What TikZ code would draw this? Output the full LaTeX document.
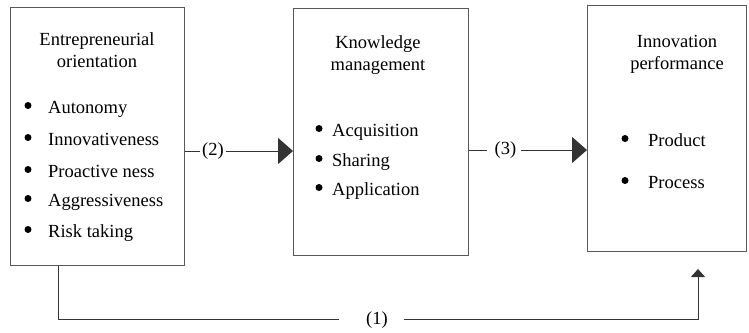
\documentclass[tikz,border=0pt]{standalone}
\usepackage{fontspec}
\setmainfont{Liberation Serif}
\usetikzlibrary{arrows.meta}
\begin{document}
\begin{tikzpicture}[x=1pt,y=-1pt,
  box/.style={draw=black!65, line width=1.1pt, anchor=north west, inner sep=0pt},
  txt/.style={inner sep=0pt, font=\fontsize{18.5}{22}\selectfont},
  ttl/.style={txt, anchor=base},
  item/.style={txt, anchor=base west},
  conn/.style={draw=black!80, line width=0.9pt},
  bigarrow/.style={conn, -{Triangle[length=15pt,width=26pt]}},
  smallarrow/.style={conn, -{Triangle[length=8pt,width=14pt]}},
  dot/.style={fill=black}]
\useasboundingbox (0,0) rectangle (749,332);
% boxes
\node[box, minimum width=174pt, minimum height=258pt] (eo) at (10,7) {};
\node[box, minimum width=175pt, minimum height=247pt] (km) at (293,8) {};
\node[box, minimum width=159pt, minimum height=246pt] (ip) at (587,5) {};
% box 1 text
\node[ttl] (eo1) at (97,45) {Entrepreneurial};
\node[ttl] (eo2) at (97,67) {orientation};
\foreach \y/\t/\n in {113/Autonomy/a,145/Innovativeness/b,177/Proactive ness/c,206/Aggressiveness/d,237/Risk taking/e}{
  \fill[dot] (28,\y-7.5) circle (3.5pt);
  \node[item] (eoi\n) at (48,\y) {\t};
}
% box 2 text
\node[ttl] (km1) at (378,48) {Knowledge};
\node[ttl] (km2) at (378,70) {management};
\foreach \y/\t/\n in {136/Acquisition/a,166/Sharing/b,195/Application/c}{
  \fill[dot] (319,\y-7.5) circle (3.5pt);
  \node[item] (kmi\n) at (332,\y) {\t};
}
% box 3 text
\node[ttl] (ip1) at (677,47) {Innovation};
\node[ttl] (ip2) at (677,69) {performance};
\foreach \y/\t/\n in {146/Product/a,188/Process/b}{
  \fill[dot] (625,\y-7.5) circle (3.5pt);
  \node[item] (ipi\n) at (648,\y) {\t};
}
% connector (2)
\node[txt, inner sep=2pt] (l2) at (213,151) {(2)};
\draw[conn] (eo.east |- l2) -- (l2.west);
\draw[bigarrow] (l2.east) -- (km.west |- l2);
% connector (3)
\node[txt] (l3) at (505.5,150) {(3)};
\draw[conn] (km.east |- l3) -- ([xshift=-8pt]l3.west);
\draw[bigarrow] ([xshift=5pt]l3.east) -- (ip.west |- l3);
% connector (1)
\node[txt] (l1) at (377,320) {(1)};
\coordinate (c1) at (58,319);
\coordinate (c2) at (698,319);
\coordinate (c3) at (698,269);
\draw[conn] (eo.south -| c1) -- (c1) -- ([xshift=-27pt]l1.west |- c1);
\draw[smallarrow] ([xshift=16pt]l1.east |- c2) -- (c2) -- (c3);
\end{tikzpicture}
\end{document}
